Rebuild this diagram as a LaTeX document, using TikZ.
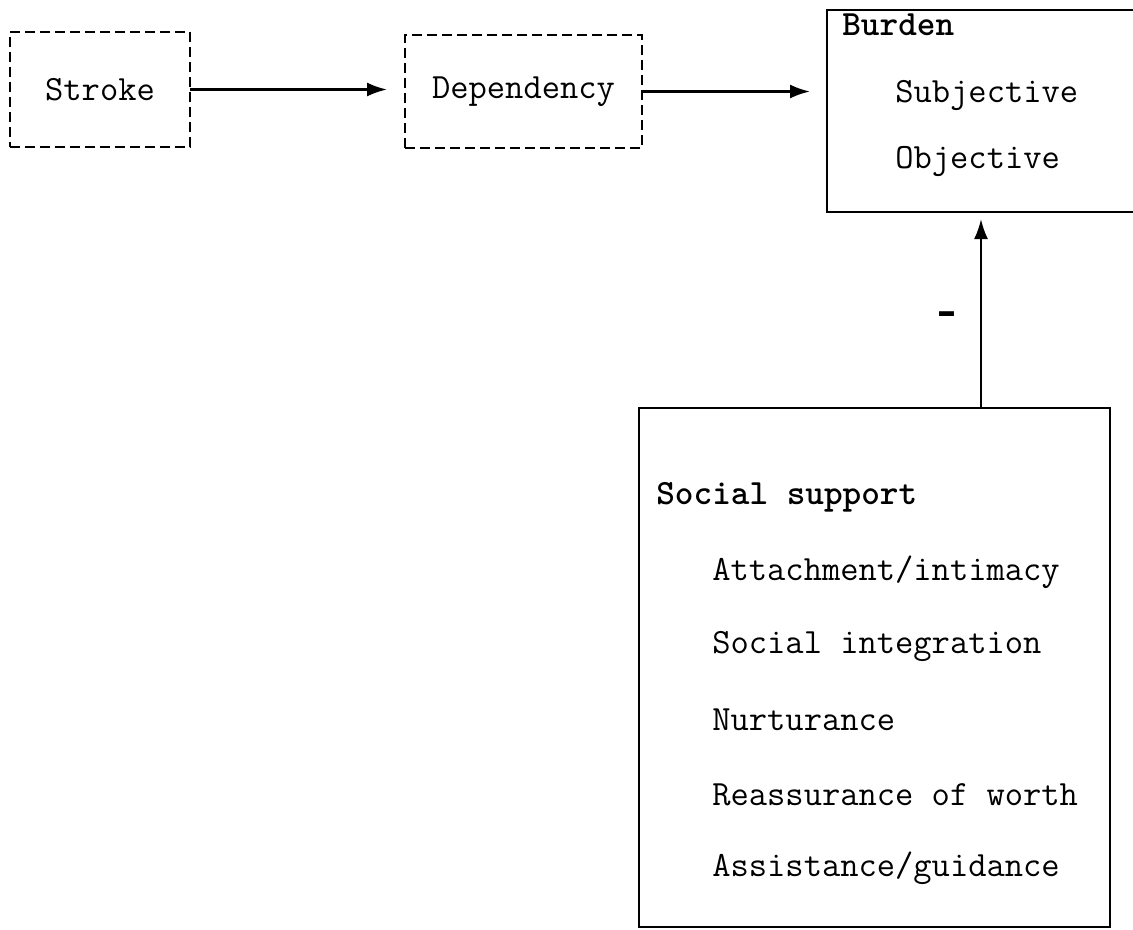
\documentclass[tikz,border=0pt]{standalone}
\usepackage{fontspec}
\newfontfamily\signfont{DejaVu Sans}
\usepackage{tikz}
\usetikzlibrary{arrows.meta,positioning,calc}

\begin{document}
\begin{tikzpicture}[x=0.2mm,y=-0.2mm,
  every node/.style={font=\ttfamily\fontsize{20.2}{22}\selectfont},
  dashbox/.style={draw,line width=1.3pt,dash pattern=on 2mm off 1mm,inner sep=0pt,outer sep=0pt,align=center},
  solidbox/.style={draw,line width=1.3pt,inner sep=0pt,outer sep=0pt},
  item/.style={anchor=west,inner sep=0pt},
  head/.style={anchor=west,inner sep=0pt,font=\ttfamily\bfseries\fontsize{20.2}{22}\selectfont},
  arr/.style={-{Latex[length=4mm,width=2.8mm]},line width=1.3pt}]
  \useasboundingbox (0,0) rectangle (1133,929);
  % Top row: cause chain
  \node[dashbox,minimum width=36mm,minimum height=23mm] (stroke) at (100,89.5) {Stroke};
  \node[dashbox,minimum width=47.4mm,minimum height=22.6mm] (dep) at (523.5,91.5) {Dependency};
  \node[solidbox,minimum width=61.6mm,minimum height=40.4mm] (burden) at (981,111) {};
  \node[head] (bhead) at (842,25) {Burden};
  \node[item] (subj) at (895,95) {Subjective};
  \node[item] (obj) at (895,161) {Objective};
  \draw[arr,shorten >=3.6mm] (stroke) -- (stroke -| dep.west);
  \draw[arr,shorten >=3.4mm] (dep) -- (dep -| burden.west);
  % Social support box
  \node[solidbox,minimum width=94.2mm,minimum height=103.8mm] (social) at (874.5,667.5) {};
  \node[head] (shead) at (656,497) {Social support};
  \node[item] (s1) at (712,572) {Attachment/intimacy};
  \node[item] (s2) at (712,646) {Social integration};
  \node[item] (s3) at (712,720) {Nurturance};
  \node[item] (s4) at (712,795) {Reassurance of worth};
  \node[item] (s5) at (712,868) {Assistance/guidance};
  % Buffering effect
  \draw[arr,shorten >=1.4mm] (social.north -| burden.south) -- (burden.south);
  \node[inner sep=0pt,font=\signfont\bfseries\fontsize{21.6}{22}\selectfont] (minus) at (947,318) {–};
\end{tikzpicture}
\end{document}
